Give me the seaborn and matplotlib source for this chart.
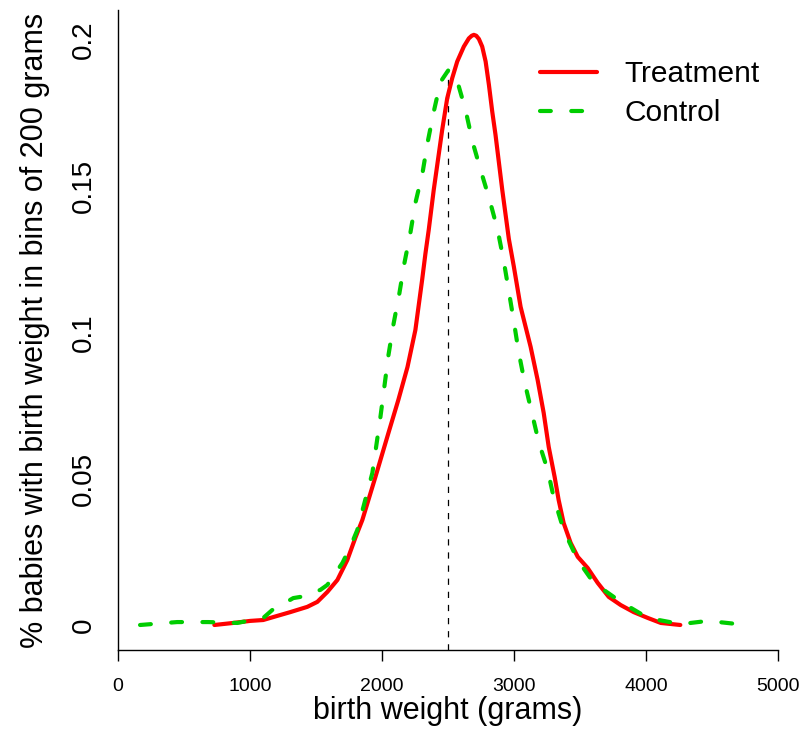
import matplotlib
matplotlib.use("Agg")
import matplotlib.pyplot as plt
import seaborn as sns
import pandas as pd

# Treatment (red, solid) curve
treat_x = [730, 873, 1002, 1100, 1206, 1305, 1434, 1510, 1586, 1662, 1737, 1798,
           1851, 1950, 2049, 2124, 2193, 2253, 2304, 2329, 2354, 2392, 2456, 2494,
           2532, 2570, 2620, 2658, 2680, 2696, 2714, 2734, 2759, 2785, 2810, 2835,
           2860, 2911, 2961, 2999, 3050, 3126, 3179, 3225, 3263, 3308, 3338, 3376,
           3429, 3483, 3558, 3634, 3718, 3809, 3907, 4014, 4112, 4260]
treat_y = [0.0, 0.0007, 0.0014, 0.0017, 0.0031, 0.0044, 0.0062, 0.0079, 0.0113,
           0.0154, 0.0222, 0.0298, 0.0359, 0.0506, 0.0657, 0.0770, 0.0882, 0.1009,
           0.1180, 0.1270, 0.1351, 0.1488, 0.1693, 0.1801, 0.1870, 0.1927, 0.1978,
           0.2006, 0.2015, 0.2018, 0.2015, 0.2004, 0.1978, 0.1927, 0.1847, 0.1756,
           0.1676, 0.1488, 0.1320, 0.1225, 0.1088, 0.0951, 0.0838, 0.0725, 0.0609,
           0.0506, 0.0428, 0.0349, 0.0281, 0.0233, 0.0195, 0.0144, 0.0096, 0.0068,
           0.0044, 0.0024, 0.0007, 0.0]

# Control (green, dashed) curve
ctrl_x = [167, 448, 683, 903, 1100, 1168, 1328, 1381, 1533, 1586, 1700, 1760,
          1813, 1927, 1988, 2049, 2086, 2132, 2170, 2215, 2253, 2307, 2345, 2390,
          2443, 2504, 2572, 2633, 2686, 2747, 2815, 2876, 2921, 2959, 2997, 3035,
          3080, 3134, 3187, 3255, 3300, 3376, 3483, 3604, 3809, 4014, 4264, 4469,
          4697, 4745]
ctrl_y = [0.0, 0.001, 0.001, 0.0007, 0.0024, 0.0051, 0.0092, 0.0096, 0.0120,
          0.0137, 0.0212, 0.0267, 0.0325, 0.0520, 0.0711, 0.0923, 0.1026, 0.1135,
          0.1238, 0.1341, 0.1443, 0.1546, 0.1649, 0.1751, 0.1857, 0.1898, 0.1857,
          0.1761, 0.1652, 0.1556, 0.1454, 0.1351, 0.1248, 0.1146, 0.1043, 0.0934,
          0.0831, 0.0728, 0.0626, 0.0530, 0.0438, 0.0325, 0.0222, 0.0144, 0.0079,
          0.0024, 0.0003, 0.0014, 0.0003, 0.0]

cutoff = 2500
cutoff_top = 0.1898
x_ticks = [0, 1000, 2000, 3000, 4000, 5000]
y_ticks = [0, 0.05, 0.1, 0.15, 0.2]
y_tick_labels = ["0", "0.05", "0.1", "0.15", "0.2"]

sns.set_style("white")
plt.rcParams["font.family"] = ["Liberation Sans", "DejaVu Sans"]
plt.rcParams["text.color"] = "black"
plt.rcParams["axes.labelcolor"] = "black"
plt.rcParams["xtick.color"] = "black"
plt.rcParams["ytick.color"] = "black"

treat_df = pd.DataFrame({"x": treat_x, "y": treat_y})
ctrl_df = pd.DataFrame({"x": ctrl_x, "y": ctrl_y})

fig = plt.figure(figsize=(8, 7.3), dpi=100)
ax = fig.add_axes([0.1475, 0.1096, 0.825, 0.8767])

ylo, yhi = -0.00855, 0.2103
ax.plot([cutoff, cutoff], [ylo, cutoff_top], color="black", linewidth=0.9,
        dashes=(5, 5.5))

sns.lineplot(data=treat_df, x="x", y="y", sort=False, estimator=None,
             color="#FF0000", linewidth=3.0, ax=ax, label="Treatment")
sns.lineplot(data=ctrl_df, x="x", y="y", sort=False, estimator=None,
             color="#00CD00", linewidth=3.0, ax=ax, label="Control")
ln = ax.lines[-1]
ln.set_dashes((2.6, 4.9))
ln.set_dash_capstyle("round")
ax.lines[-2].set_solid_capstyle("round")
ax.lines[-2].set_solid_joinstyle("round")

ax.set_xlim(0, 5000)
ax.set_ylim(ylo, yhi)
ax.set_xticks(x_ticks)
ax.set_xticklabels([str(v) for v in x_ticks], fontsize=14)
ax.set_yticks(y_ticks)
ax.set_yticklabels(y_tick_labels, fontsize=20, rotation=90, va="center")
ax.tick_params(axis="x", direction="out", length=8, width=1, pad=12, bottom=True)
ax.tick_params(axis="y", length=0, pad=15)

ax.set_xlabel("birth weight (grams)", fontsize=22, labelpad=1)
ax.set_ylabel("% babies with birth weight in bins of 200 grams", fontsize=22,
              labelpad=15)

for s in ["top", "right"]:
    ax.spines[s].set_visible(False)
for s in ["left", "bottom"]:
    ax.spines[s].set_color("black")
    ax.spines[s].set_linewidth(1.0)

leg = ax.legend(loc="upper left", bbox_to_anchor=(0.622, 0.94), frameon=False,
                fontsize=21.5, handlelength=1.9, handletextpad=0.9,
                labelspacing=0.36, borderaxespad=0)

fig.savefig("out.png", dpi=100)
